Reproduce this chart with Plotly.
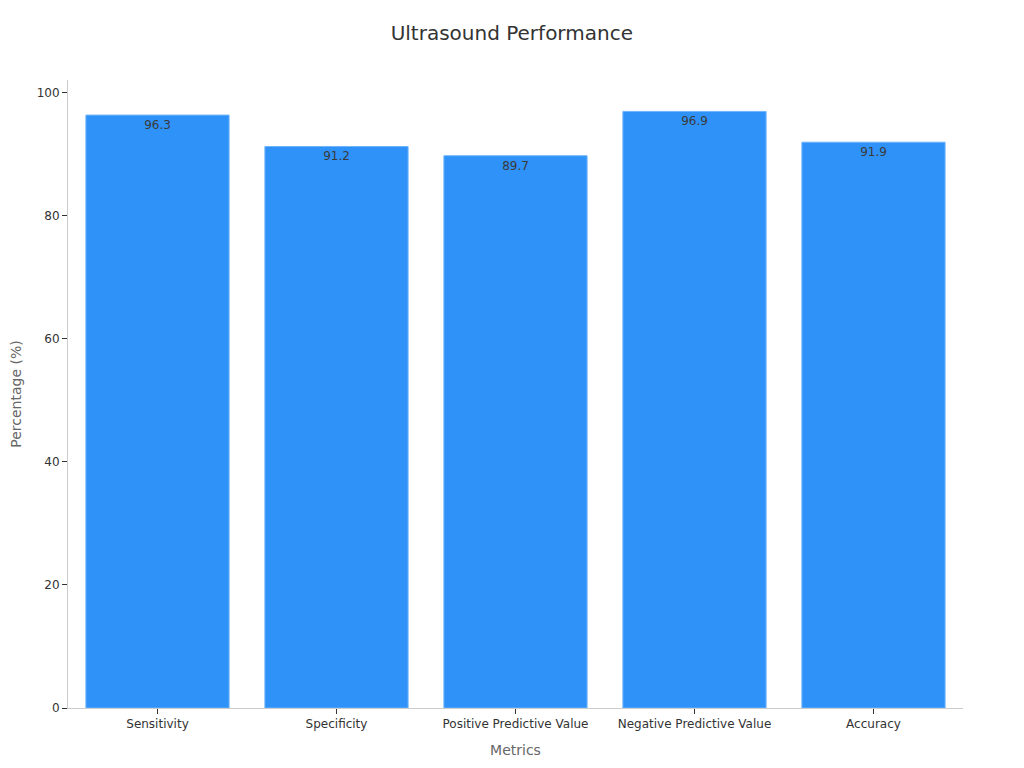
import plotly.graph_objects as go

metrics = ['Sensitivity', 'Specificity', 'Positive Predictive Value',
           'Negative Predictive Value', 'Accuracy']
percentages = [96.3, 91.2, 89.7, 96.9, 91.9]

fig = go.Figure(data=[go.Bar(
    x=metrics,
    y=percentages,
    text=[f'{v:.1f}' for v in percentages],
    textposition='inside',
    insidetextanchor='end',
    textfont=dict(size=12, color='#3a3a3a'),
    marker=dict(color='#2f92f8', line=dict(color='#6fb4fb', width=1)),
)])

fig.update_layout(
    width=1024,
    height=768,
    font=dict(family='DejaVu Sans', size=12, color='#333333'),
    plot_bgcolor='white',
    paper_bgcolor='white',
    title=dict(text='Ultrasound Performance', x=0.492, y=0.967,
               xanchor='center', yanchor='middle',
               font=dict(size=20, color='#333333')),
    margin=dict(l=60, r=69, t=72, b=68),
    bargap=0.2,
    showlegend=False,
)

fig.update_xaxes(
    title=dict(text='Metrics', font=dict(size=14, color='#666666'), standoff=14),
    showline=True, linecolor='#cccccc', linewidth=1,
    ticks='outside', tickcolor='#333333', ticklen=5,
    showgrid=False, automargin=False,
)
fig.update_yaxes(
    title=dict(text='Percentage (%)', font=dict(size=14, color='#666666'), standoff=14),
    range=[0, 102],
    tickvals=[0, 20, 40, 60, 80, 100],
    showline=True, linecolor='#cccccc', linewidth=1,
    ticks='outside', tickcolor='#333333', ticklen=5,
    showgrid=False, zeroline=False, automargin=False,
)

fig.write_html('out.html')
